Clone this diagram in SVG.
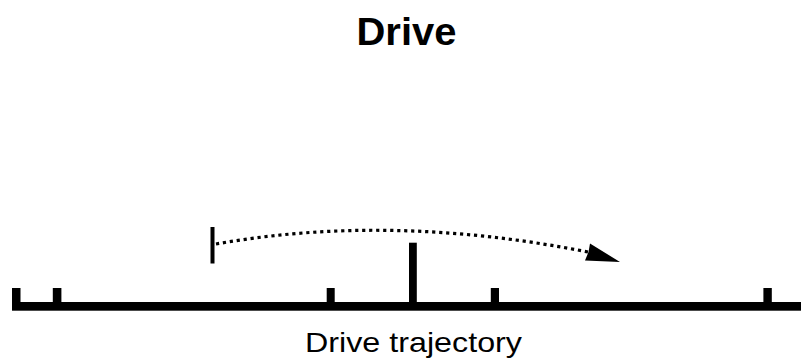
<svg xmlns="http://www.w3.org/2000/svg" width="801" height="358" viewBox="0 0 801 358">
  <style>
    .title { font-family: "Liberation Sans", Arial, sans-serif; font-weight: bold; font-size: 38px; fill: #000; }
    .label { font-family: "Liberation Sans", Arial, sans-serif; font-size: 28px; fill: #000; }
    .bar { fill: #000; }
    .dots { fill: none; stroke: #000; stroke-width: 3.2; stroke-dasharray: 3.2 3.8; }
  </style>
  <rect width="801" height="358" fill="#fff"/>

  <text class="title" x="406.5" y="45" text-anchor="middle" textLength="100" lengthAdjust="spacingAndGlyphs">Drive</text>

  <!-- trajectory axis with tick marks -->
  <g id="axis">
    <rect class="bar" x="12" y="302" width="789" height="8.7"/>
    <rect class="bar" x="12" y="288" width="8.5" height="15"/>
    <rect class="bar" x="52.8" y="288" width="8.6" height="15"/>
    <rect class="bar" x="326.7" y="288" width="8" height="15"/>
    <rect class="bar" x="490.8" y="288" width="8.2" height="15"/>
    <rect class="bar" x="763.4" y="288" width="8.4" height="15"/>
  </g>

  <!-- current position -->
  <g id="current">
    <rect class="bar" x="409" y="242.7" width="7.8" height="60"/>
  </g>

  <!-- start marker of the drive -->
  <g id="start">
    <rect class="bar" x="210.5" y="227" width="4" height="36.5"/>
  </g>

  <g id="connectors">
    <path class="dots" d="M216,244 Q390,213 588,252"/>
    <polygon points="590,243.5 620,262 585,260.5 588.5,252" fill="#000"/>
  </g>

  <text class="label" x="305" y="351.5" textLength="217" lengthAdjust="spacingAndGlyphs">Drive trajectory</text>
</svg>
